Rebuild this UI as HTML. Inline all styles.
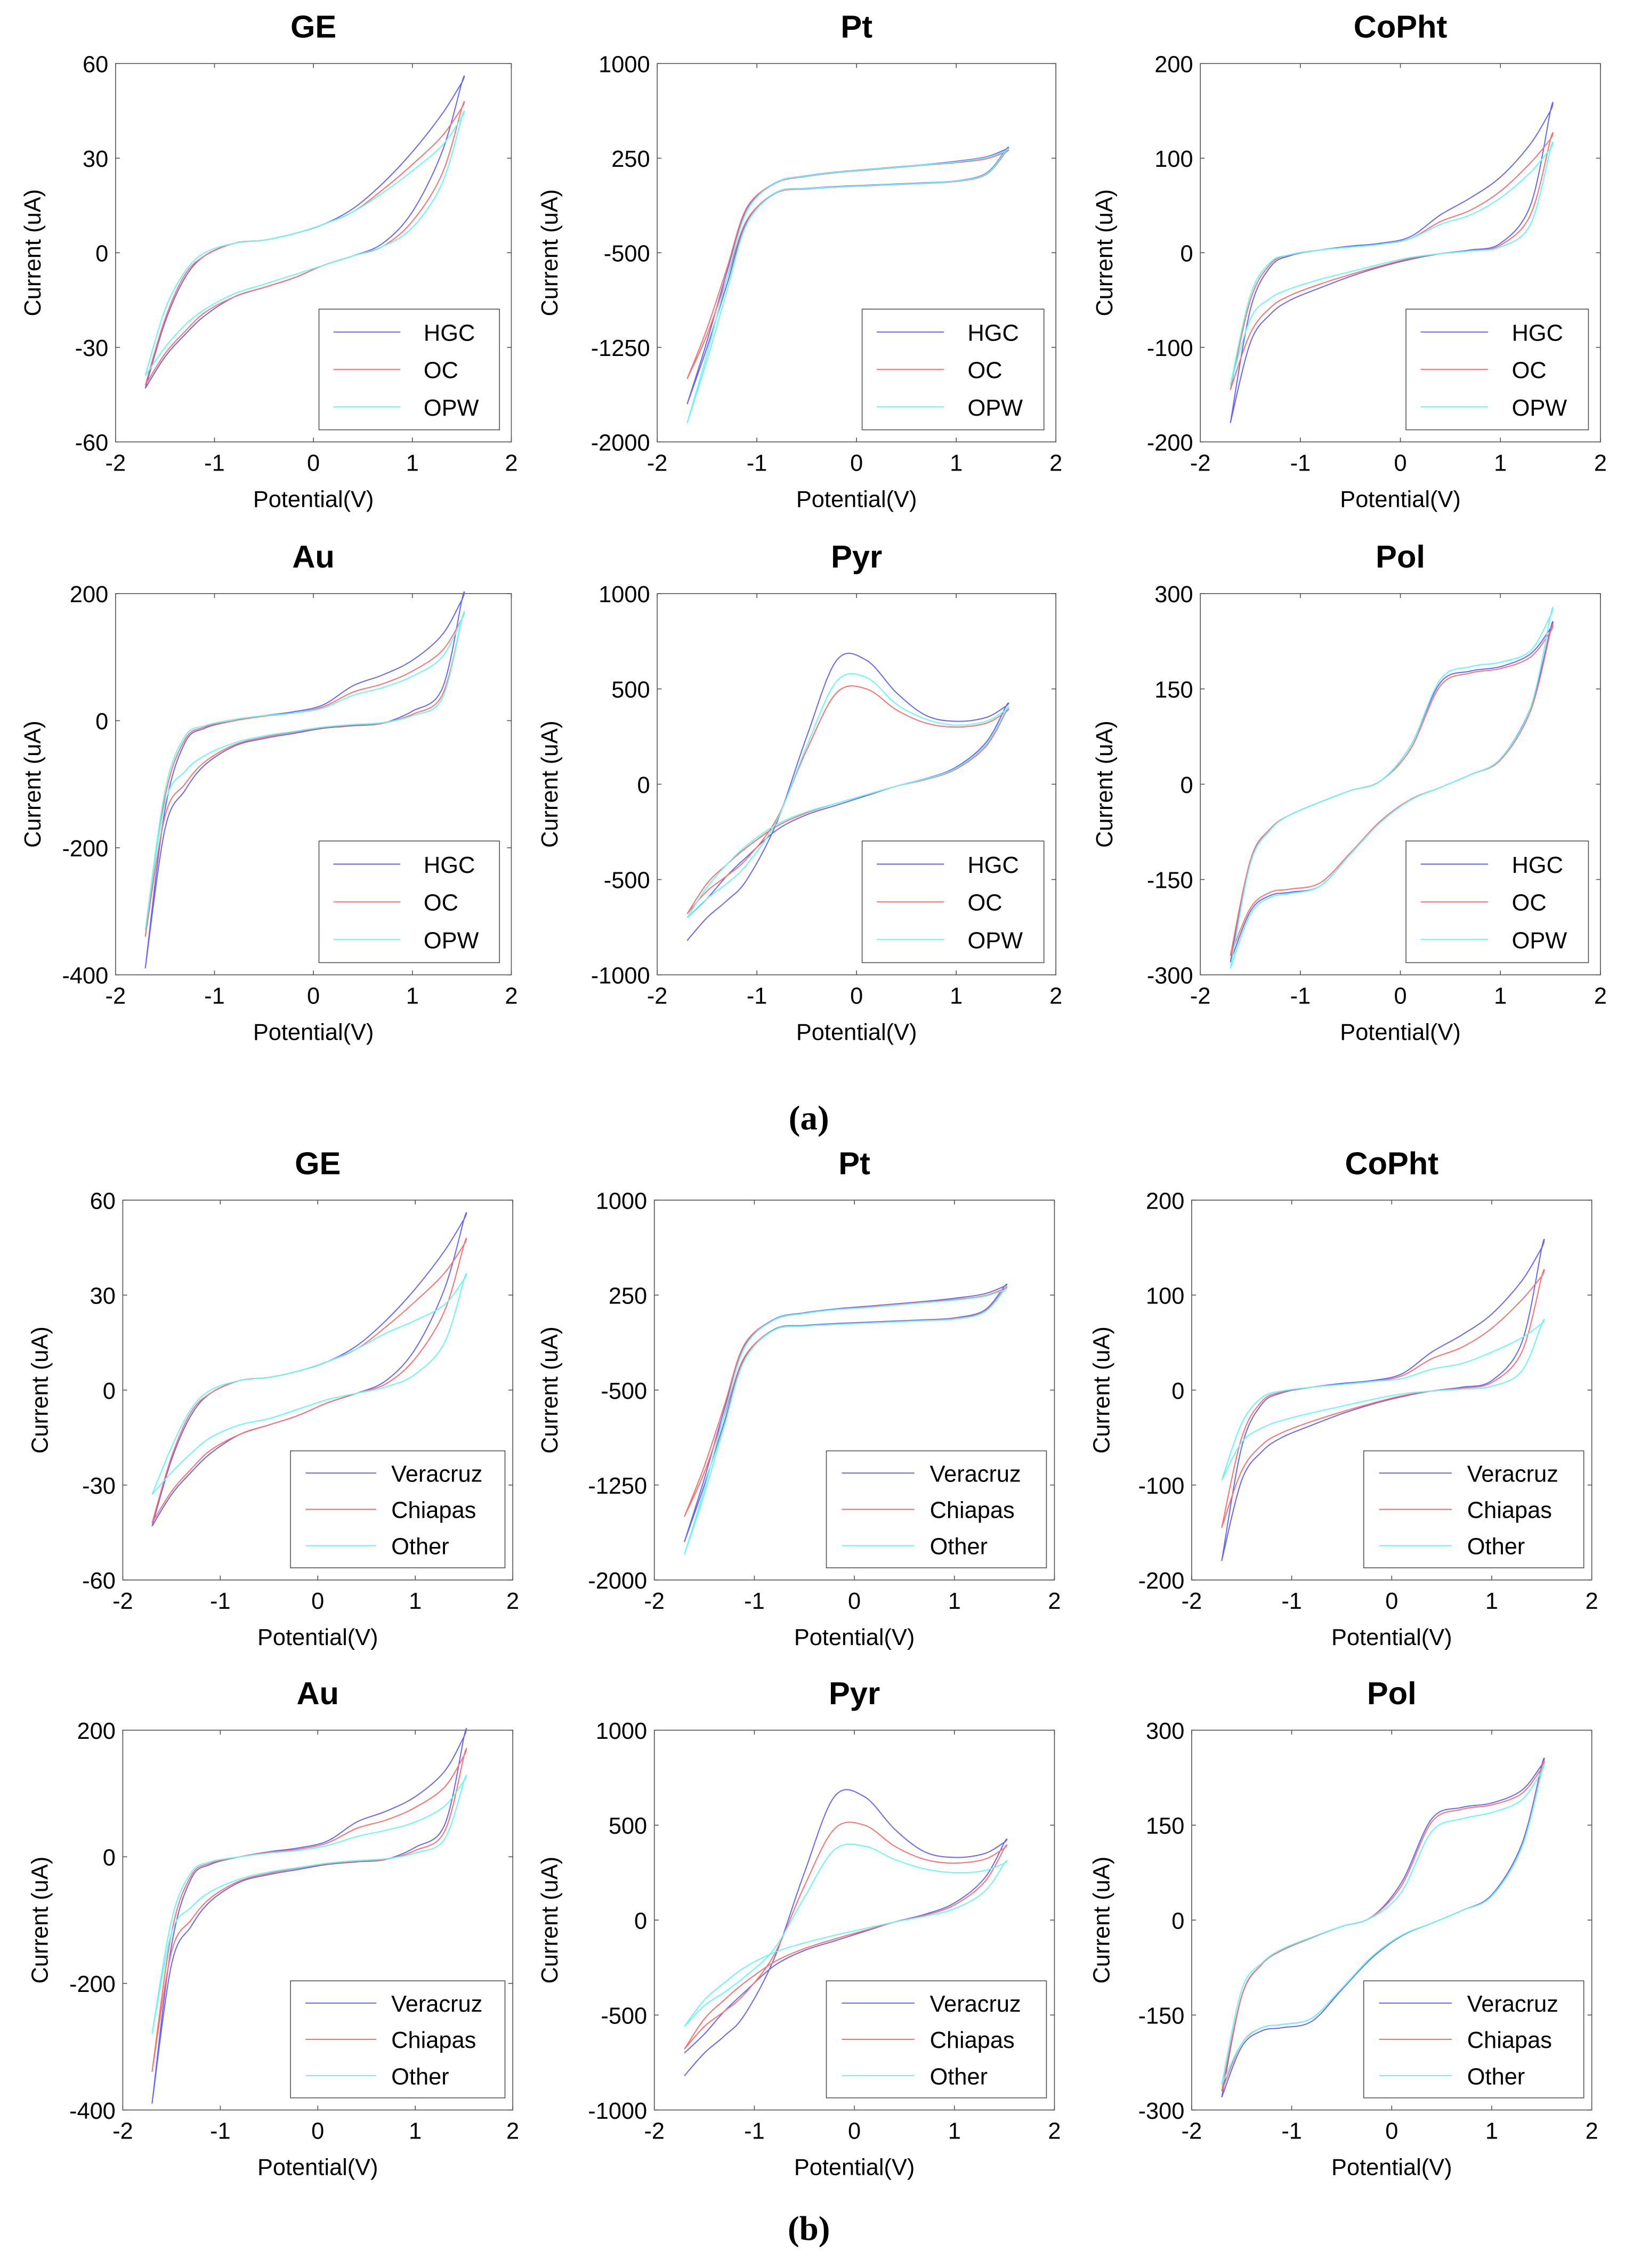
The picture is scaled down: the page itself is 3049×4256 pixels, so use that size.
<!DOCTYPE html>
<html><head><meta charset="utf-8"><style>
html,body{margin:0;padding:0;background:#fff}
svg{display:block}
text{font-family:"Liberation Sans",Arial,sans-serif;fill:#000}
</style></head><body>
<svg id="fig" xmlns="http://www.w3.org/2000/svg" width="3049" height="4256" viewBox="0 0 1125 1570.4" preserveAspectRatio="none"></svg>
<script>
// ---- data ----
const potentials = [-1.7,-1.5,-1.3,-1.1,-0.8,-0.5,-0.2,0.1,0.4,0.7,1.0,1.3,1.5];
const xTicks = [-2,-1,0,1,2];
const panelNames = ["GE","Pt","CoPht","Au","Pyr","Pol"];
const yTicksGE = [-60,-30,0,30,60];
const yTicksPt = [-2000,-1250,-500,250,1000];
const yTicksCoPht = [-200,-100,0,100,200];
const yTicksAu = [-400,-200,0,200];
const yTicksPyr = [-1000,-500,0,500,1000];
const yTicksPol = [-300,-150,0,150,300];
const legendA = ["HGC","OC","OPW"];
const legendB = ["Veracruz","Chiapas","Other"];

const geHGCf=[-43,-22,-8,-1,3,4,6,9,14,22,32,44,54], geHGCr=[-43,-33,-26,-20,-14,-11,-8,-4,-1,3,13,32,54];
const geOCf=[-42,-21,-7,-1,3,4,6,9,13,20,28,37,46], geOCr=[-42,-32,-25,-19,-14,-11,-8,-4,-1,2,10,25,46];
const geOPWf=[-39,-18,-6,0,3,4,6,9,13,19,26,34,43], geOPWr=[-39,-30,-23,-18,-13,-10,-7,-4,-1,2,8,22,43];
const geOTHf=[-33,-18,-6,0,3,4,6,9,13,18,22,27,35], geOTHr=[-33,-26,-20,-15,-11,-9,-6,-3,-1,1,5,15,35];

const ptHGCf=[-1700,-1200,-650,-150,60,110,140,160,180,200,225,260,320], ptHGCr=[-1700,-1250,-750,-250,-20,10,25,35,45,55,70,130,320];
const ptOCf=[-1500,-1100,-620,-140,55,105,135,155,175,195,215,245,300], ptOCr=[-1500,-1150,-700,-240,-25,5,20,30,40,50,65,120,300];
const ptOPWf=[-1850,-1300,-700,-170,58,108,138,158,178,198,220,255,310], ptOPWr=[-1850,-1350,-800,-270,-22,8,22,32,42,52,68,125,310];
const ptOTHf=[-1800,-1280,-690,-165,55,105,135,150,170,190,210,240,290], ptOTHr=[-1800,-1320,-780,-265,-25,5,18,28,38,48,60,115,290];

const coHGCf=[-180,-60,-15,-3,3,7,10,17,40,58,80,115,150], coHGCr=[-180,-95,-65,-50,-37,-25,-15,-7,-1,3,10,50,150];
const coOCf=[-145,-50,-12,-2,3,6,9,15,33,45,65,95,120], coOCr=[-145,-85,-58,-45,-33,-23,-14,-6,-1,2,8,40,120];
const coOPWf=[-140,-45,-10,-2,3,6,9,15,30,40,58,85,110], coOPWr=[-140,-70,-48,-38,-28,-20,-12,-5,-1,2,6,30,110];
const coOTHf=[-95,-35,-8,-1,3,6,9,12,22,28,40,55,70], coOTHr=[-95,-55,-40,-32,-24,-17,-10,-4,-1,1,4,20,70];

const auHGCf=[-390,-140,-35,-12,0,8,14,25,55,72,95,135,190], auHGCr=[-390,-170,-110,-70,-40,-28,-20,-12,-8,-4,15,50,190];
const auOCf=[-340,-120,-30,-10,0,7,12,22,45,58,78,110,160], auOCr=[-340,-150,-100,-65,-38,-26,-18,-11,-7,-4,10,40,160];
const auOPWf=[-330,-110,-25,-8,2,8,12,20,40,52,70,100,160], auOPWr=[-330,-130,-80,-55,-35,-24,-17,-10,-6,-3,8,35,160];
const auOTHf=[-280,-100,-25,-8,0,6,10,18,32,42,55,80,120], auOTHr=[-280,-120,-80,-55,-35,-24,-17,-10,-6,-3,6,28,120];

const pyHGCf=[-820,-700,-610,-500,-200,250,650,650,480,360,330,350,410], pyHGCr=[-700,-600,-480,-380,-240,-160,-110,-60,-10,30,90,220,410];
const pyOCf=[-680,-560,-480,-390,-180,180,480,500,390,320,300,320,380], pyOCr=[-680,-520,-420,-330,-220,-150,-100,-55,-10,25,80,200,380];
const pyOPWf=[-700,-600,-520,-420,-190,200,540,560,420,340,310,330,390], pyOPWr=[-700,-540,-420,-320,-210,-145,-100,-55,-10,28,85,210,390];
const pyOTHf=[-560,-450,-380,-300,-150,120,370,390,320,270,250,260,300], pyOTHr=[-560,-420,-330,-250,-170,-120,-80,-45,-10,20,60,150,300];

const poHGCf=[-280,-120,-70,-48,-28,-10,5,60,160,178,185,205,245], poHGCr=[-280,-200,-175,-170,-160,-110,-60,-25,-5,15,40,120,245];
const poOCf=[-270,-120,-70,-48,-28,-10,5,55,155,175,182,200,240], poOCr=[-270,-195,-170,-165,-155,-108,-58,-24,-5,15,38,115,240];
const poOPWf=[-290,-125,-72,-48,-28,-10,5,60,165,185,192,210,265], poOPWr=[-290,-205,-178,-172,-160,-110,-60,-25,-5,15,40,120,265];
const poOTHf=[-260,-110,-68,-46,-27,-10,4,45,140,160,170,190,235], poOTHr=[-260,-195,-170,-165,-155,-108,-58,-24,-5,15,38,115,235];

// ---- layout ----
const NS="http://www.w3.org/2000/svg";
const svg=document.getElementById('fig');
const colors=["#6666ff","#ff6f6f","#66f6f6"];
function mk(tag,attrs,parent){const e=document.createElementNS(NS,tag);for(const k in attrs)e.setAttribute(k,attrs[k]);(parent||svg).appendChild(e);return e;}

const panels=[
 {n:0,yt:yTicksGE,s:[[geHGCf,geHGCr],[geOCf,geOCr],[geOPWf,geOPWr]],o:[geOTHf,geOTHr]},
 {n:1,yt:yTicksPt,s:[[ptHGCf,ptHGCr],[ptOCf,ptOCr],[ptOPWf,ptOPWr]],o:[ptOTHf,ptOTHr]},
 {n:2,yt:yTicksCoPht,s:[[coHGCf,coHGCr],[coOCf,coOCr],[coOPWf,coOPWr]],o:[coOTHf,coOTHr]},
 {n:3,yt:yTicksAu,s:[[auHGCf,auHGCr],[auOCf,auOCr],[auOPWf,auOPWr]],o:[auOTHf,auOTHr]},
 {n:4,yt:yTicksPyr,s:[[pyHGCf,pyHGCr],[pyOCf,pyOCr],[pyOPWf,pyOPWr]],o:[pyOTHf,pyOTHr]},
 {n:5,yt:yTicksPol,s:[[poHGCf,poHGCr],[poOCf,poOCr],[poOPWf,poOPWr]],o:[poOTHf,poOTHr]}
];
const colsA=[[80,354,28],[455,731,386],[831,1108,770]];
const colsB=[[85,355,33],[453,730,386],[825,1102,768]];
const rowsA=[[44,306],[411,675]];
const rowsB=[[831,1094],[1198,1461]];

function smooth(pts){
  let d='M'+pts[0][0].toFixed(2)+','+pts[0][1].toFixed(2);
  for(let i=0;i<pts.length-1;i++){
    const p0=pts[Math.max(0,i-1)],p1=pts[i],p2=pts[i+1],p3=pts[Math.min(pts.length-1,i+2)];
    const c1=[p1[0]+(p2[0]-p0[0])/6,p1[1]+(p2[1]-p0[1])/6];
    const c2=[p2[0]-(p3[0]-p1[0])/6,p2[1]-(p3[1]-p1[1])/6];
    d+=' C'+c1[0].toFixed(2)+','+c1[1].toFixed(2)+' '+c2[0].toFixed(2)+','+c2[1].toFixed(2)+' '+p2[0].toFixed(2)+','+p2[1].toFixed(2);
  }
  return d;
}

function drawPanel(p,box,part){
  const [x0,x1,ylx]=box.c,[y0,y1]=box.r;
  const g=mk('g',{});
  
  
  const yt=p.yt, ymin=yt[0], ymax=yt[yt.length-1];
  const sx=v=>x0+(v-xTicks[0])/(xTicks[xTicks.length-1]-xTicks[0])*(x1-x0);
  const sy=v=>y1-(v-ymin)/(ymax-ymin)*(y1-y0);
  const t=mk('text',{x:(x0+x1)/2,y:y0-18,'text-anchor':'middle','font-size':22,'font-weight':'bold'},g);
  t.textContent=panelNames[p.n];
  
  
  mk('rect',{x:x0,y:y0,width:x1-x0,height:y1-y0,fill:'none',stroke:'#555','stroke-width':0.6},g);
  xTicks.forEach(v=>{const X=sx(v);
    mk('line',{x1:X,x2:X,y1:y1,y2:y1-3,stroke:'#555','stroke-width':0.6},g);
    mk('line',{x1:X,x2:X,y1:y0,y2:y0+3,stroke:'#555','stroke-width':0.6},g);
    const l=mk('text',{x:X,y:y1+20,'text-anchor':'middle','font-size':16},g);l.textContent=v;
    
    });
  yt.forEach(v=>{const Y=sy(v);
    mk('line',{x1:x0,x2:x0+3,y1:Y,y2:Y,stroke:'#555','stroke-width':0.6},g);
    mk('line',{x1:x1,x2:x1-3,y1:Y,y2:Y,stroke:'#555','stroke-width':0.6},g);
    const l=mk('text',{x:x0-5,y:Y+6,'text-anchor':'end','font-size':16},g);l.textContent=v;
    
    });
  const xl=mk('text',{x:(x0+x1)/2,y:y1+45,'text-anchor':'middle','font-size':16},g);xl.textContent='Potential(V)';
  
  
  const yc=(y0+y1)/2;
  const yl=mk('text',{x:ylx,y:yc,'text-anchor':'middle','font-size':16,transform:`rotate(-90 ${ylx} ${yc})`},g);yl.textContent='Current (uA)';
  
  
  const series=box.b?[p.s[0],p.s[1],p.o]:p.s;
  series.forEach((s,i)=>{
    const pts=[];
    potentials.forEach((v,k)=>pts.push([sx(v),sy(s[0][k])]));
    for(let k=potentials.length-1;k>=0;k--)pts.push([sx(potentials[k]),sy(s[1][k])]);
    const pl=mk('path',{d:smooth(pts),fill:'none',stroke:colors[i],'stroke-width':0.75,'stroke-linejoin':'round'},g);
    
    
  });
  // legend
  const names=box.b?legendB:legendA;
  const w=x1-x0,h=y1-y0;
  const lx0=x0+(box.b?0.43:0.514)*w, lx1=x0+(box.b?0.98:0.97)*w;
  const ly0=y0+(box.b?0.66:0.649)*h, ly1=y0+0.968*h;
  const lg=mk('g',{},g);
  
  
  mk('rect',{x:lx0,y:ly0,width:lx1-lx0,height:ly1-ly0,fill:'#fff',stroke:'#555','stroke-width':0.6},lg);
  const lw=lx1-lx0;
  names.forEach((nm,i)=>{
    const yy=ly0+(ly1-ly0)*(0.19+0.31*i);
    mk('line',{x1:lx0+lw*(box.b?0.07:0.08),x2:lx0+lw*(box.b?0.4:0.45),y1:yy,y2:yy,stroke:colors[i],'stroke-width':0.75},lg);
    const tt=mk('text',{x:lx0+lw*(box.b?0.47:0.58),y:yy+6,'font-size':16},lg);tt.textContent=nm;
    
    
  });
}
panels.forEach((p,i)=>{
  const c=i%3,r=Math.floor(i/3);
  drawPanel(p,{c:colsA[c],r:rowsA[r],b:false},'a');
  drawPanel(p,{c:colsB[c],r:rowsB[r],b:true},'b');
});
const la=mk('text',{x:560,y:782,'text-anchor':'middle','font-size':24,'font-weight':'bold',style:'font-family:"Liberation Serif",serif'});la.textContent='(a)';


const lb=mk('text',{x:560,y:1551,'text-anchor':'middle','font-size':24,'font-weight':'bold',style:'font-family:"Liberation Serif",serif'});lb.textContent='(b)';


</script>
</body></html>
